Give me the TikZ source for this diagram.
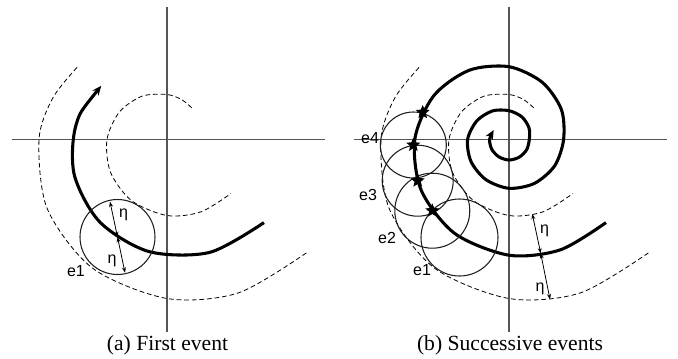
\documentclass[tikz,border=0pt]{standalone}
\usepackage{fontspec}
\setmainfont{Liberation Serif}
\newfontfamily\lblfont{Liberation Sans}
\usepackage{tikz}
\usetikzlibrary{arrows.meta,shapes.geometric}
\definecolor{dAxis}{RGB}{85,85,85}
\definecolor{dRing}{RGB}{30,30,30}
\tikzset{
  axis/.style={draw=dAxis, line width=1.1pt},
  traj/.style={draw=black, line width=2.3pt,
               {Stealth[length=7pt,width=6pt]}-},
  band/.style={draw=black, line width=0.6pt, dash pattern=on 3.5pt off 2.2pt},
  ring/.style={draw=dRing, line width=0.8pt},
  hit/.style={star, star points=5, star point ratio=2.2, fill=black,
              inner sep=0pt, minimum size=11pt},
  dist/.style={{Stealth[length=4pt,width=3pt]}-{Stealth[length=4pt,width=3pt]},
               line width=0.6pt},
  lbl/.style={font=\lblfont\fontsize{12}{14}\selectfont, inner sep=0pt},
  subcap/.style={font=\fontsize{16.2}{19}\selectfont, anchor=base, inner sep=0pt},
}
% axes and the two eta bands, same in both panels
\newcommand{\EventPlane}{%
  \draw[axis] (0,132.5) -- (0,-192.5);
  \draw[axis] (-155.5,0) -- (158,0);
  \draw[band] plot[smooth] coordinates
    {(52:40.2) (70:42.5) (90:45) (120:50) (150:55) (180:60) (210:65.3)
     (240:70.7) (270:76) (295:79.9) (319.8:83.7)};
  \draw[band] plot[smooth] coordinates
    {(141.3:115.3) (160:121.5) (180:128) (210:138.3) (240:148.7)
     (270:159) (295:169.2) (321.1:179.9)};}

\begin{document}
\begin{tikzpicture}[x=0.75pt,y=0.75pt]
  \useasboundingbox (0,0) rectangle (678,-358);
  % (a) first event
  \begin{scope}[shift={(167,-139.5)}]
    \EventPlane
    \draw[traj] plot[smooth] coordinates
      {(860.8:84.9) (890.8:92.1) (920.8:99.2) (950.8:106.4) (980.8:113.5)
       (1010.8:120.7) (1039.4:127.7)};
    \coordinate (ac) at (-49.5,-97.5);
    \coordinate (at) at (-57,-62.2);
    \coordinate (ab) at (-42,-133.2);
    \draw[ring] (ac) circle[radius=37.5];
    \draw[dist] (ac) -- (at);
    \draw[dist] (ac) -- (ab);
    \node[lbl] (aeta1) at (-43.5,-75.5) {η};
    \node[lbl] (aeta2) at (-55,-121.5) {η};
    \node[lbl] (ae1) at (-91,-131.5) {e1};
    \node[subcap] (capa) at (0.5,-210.5) {(a) First event};
  \end{scope}
  % (b) successive events
  \begin{scope}[shift={(509,-139.5)}]
    \EventPlane
    \draw[traj] plot[smooth] coordinates
      {(148:18) (180:19.4) (210:19.8) (240:20.1) (270:20.5)
       (300:20.4) (330:20.4) (360:20.3) (390:23.1) (420:26) (450:28.8)
       (480:33) (510:37.2) (540:41.4) (570:43.9) (600:46.3) (630:48.8)
       (660:50.7) (690:52.7) (720:54.6) (750:60.4) (780:66.2) (810:72.8)
       (840:79.9) (870:87.1) (900:94.2) (930:101.4) (960:108.5) (990:115.7)
       (1015:121.7) (1039.4:127.7)};
    \coordinate (bc) at (-49.5,-98);
    \coordinate (bs1) at (-76.7,-71.2);
    \coordinate (bs2) at (-91.3,-41.2);
    \coordinate (bs3) at (-95.7,-5.5);
    \coordinate (bs4) at (-86.3,27.2);
    \draw[ring] (bc) circle[radius=38.5];
    \draw[ring] (bs1) circle[radius=37.5];
    \draw[ring] (bs2) circle[radius=35.5];
    \draw[ring] (bs3) circle[radius=33];
    \foreach \s in {bs1,bs2,bs3,bs4}
      \node[hit] at (\s) {};
    \coordinate (bm) at (31.7,-113.8);
    \coordinate (bt) at (23.3,-74.5);
    \coordinate (bb) at (41,-159.8);
    \draw[dist] (bm) -- (bt);
    \draw[dist] (bm) -- (bb);
    \node[lbl] (beta1) at (35.5,-91.5) {η};
    \node[lbl] (beta2) at (31,-149.5) {η};
    \node[lbl] (be1) at (-87,-130.5) {e1};
    \node[lbl] (be2) at (-122,-98.5) {e2};
    \node[lbl] (be3) at (-141,-55.5) {e3};
    \node[lbl] (be4) at (-139,1.5) {e4};
    \node[subcap] (capb) at (1,-210.5) {(b) Successive events};
  \end{scope}
\end{tikzpicture}
\end{document}
